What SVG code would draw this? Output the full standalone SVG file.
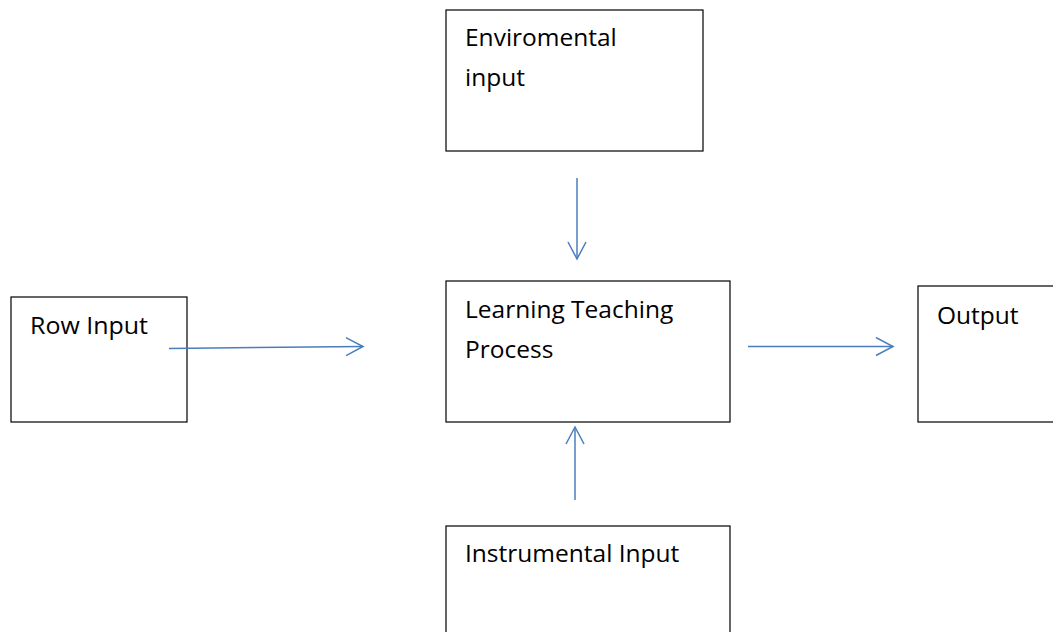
<svg xmlns="http://www.w3.org/2000/svg" width="1053" height="632" viewBox="0 0 1053 632">
<style>
.box{fill:#fff;stroke:#000;stroke-width:1.2}
.lbl{font-family:"Open Sans","Liberation Sans",sans-serif;font-size:24.5px;fill:#000}
.conn{stroke:#4a7ebb;stroke-width:1.5;fill:none}
</style>
<defs>
<marker id="arr" viewBox="0 0 20 20" refX="18" refY="10" markerWidth="20" markerHeight="20" markerUnits="userSpaceOnUse" orient="auto">
<path d="M1,1 L18,10 L1,19" fill="none" stroke="#4a7ebb" stroke-width="1.5"/>
</marker>
</defs>
<rect width="1053" height="632" fill="#fff"/>
<g id="row-input"><rect class="box" x="11" y="297" width="176" height="125"/><text class="lbl" x="30" y="334" textLength="118" lengthAdjust="spacingAndGlyphs">Row Input</text></g>
<g id="environmental-input"><rect class="box" x="446" y="10" width="257" height="141"/><text class="lbl" x="465" y="46">Enviromental</text><text class="lbl" x="465" y="86">input</text></g>
<g id="learning-teaching-process"><rect class="box" x="446" y="281" width="284" height="141"/><text class="lbl" x="465" y="318">Learning Teaching</text><text class="lbl" x="465" y="358">Process</text></g>
<g id="output"><rect class="box" x="918" y="286" width="140" height="136"/><text class="lbl" x="937" y="324">Output</text></g>
<g id="instrumental-input"><rect class="box" x="446" y="526" width="284" height="110"/><text class="lbl" x="465" y="562">Instrumental Input</text></g>
<g id="connectors">
<line class="conn" x1="169" y1="348.5" x2="363" y2="346.5" marker-end="url(#arr)"/>
<line class="conn" x1="577" y1="178" x2="577" y2="259" marker-end="url(#arr)"/>
<line class="conn" x1="748" y1="346.5" x2="893" y2="346.5" marker-end="url(#arr)"/>
<line class="conn" x1="575" y1="500" x2="575" y2="427" marker-end="url(#arr)"/>
</g>
</svg>
